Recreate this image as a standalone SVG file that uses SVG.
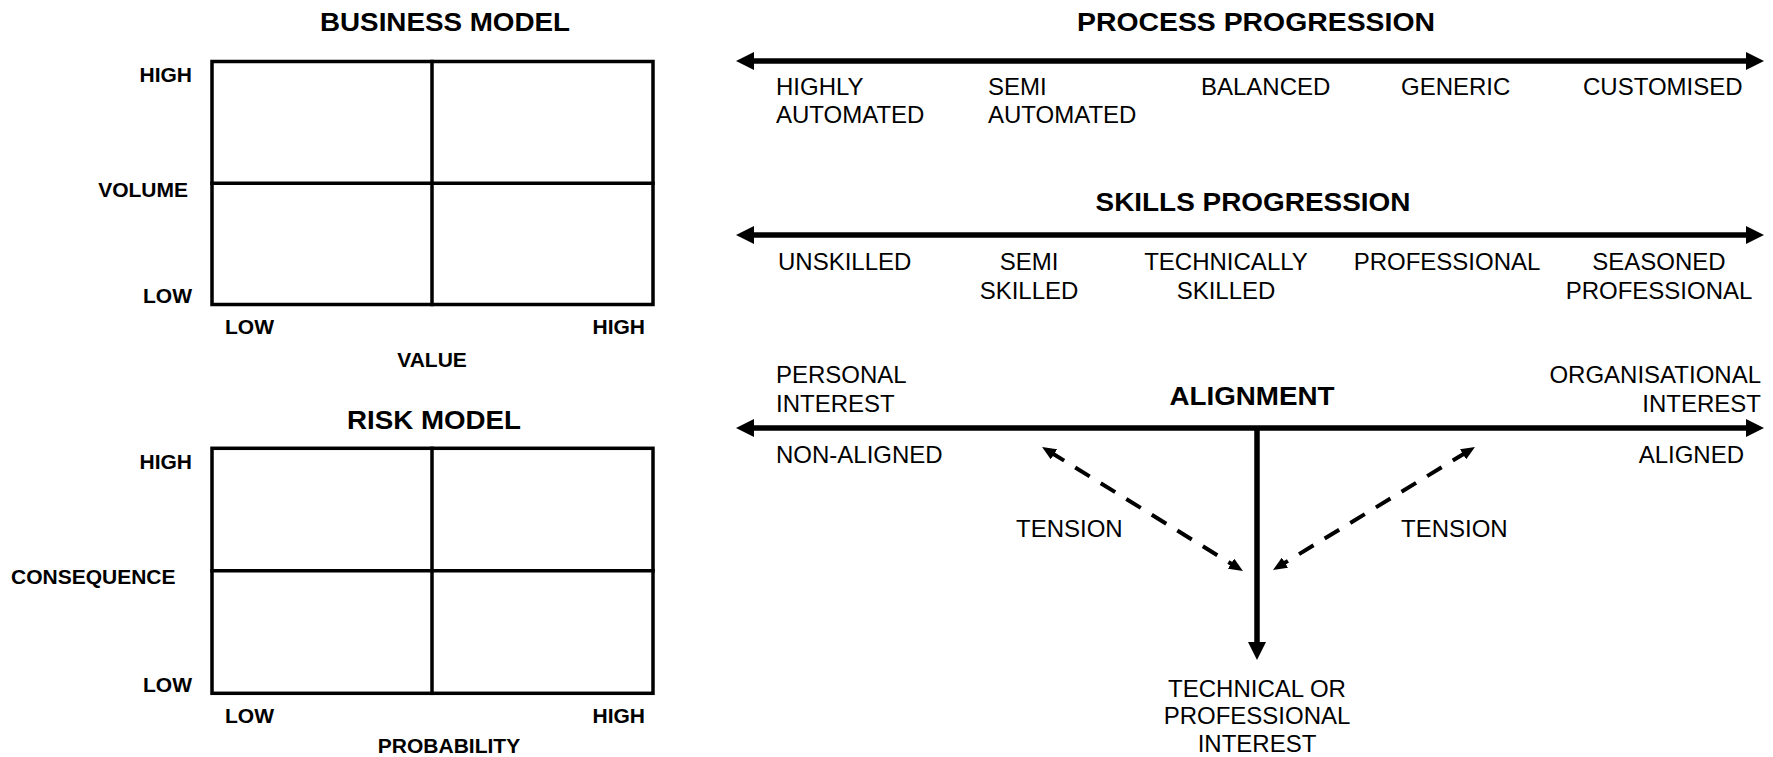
<svg xmlns="http://www.w3.org/2000/svg" width="1773" height="757" viewBox="0 0 1773 757">
<style>
.t{font-family:"Liberation Sans",Arial,sans-serif;fill:#000;font-weight:bold;font-size:25px}
.b{font-family:"Liberation Sans",Arial,sans-serif;fill:#000;font-weight:bold;font-size:21px}
.r{font-family:"Liberation Sans",Arial,sans-serif;fill:#000;font-size:24px}
.grid{fill:none;stroke:#000;stroke-width:3.5;stroke-linecap:square}
.axis{fill:none;stroke:#000;stroke-width:5.5}
.dash{fill:none;stroke:#000;stroke-width:4;stroke-dasharray:17 13}
.m{text-anchor:middle}
.e{text-anchor:end}
</style>
<defs>
<marker id="bigArrow" viewBox="0 0 18 18" markerWidth="18" markerHeight="18" markerUnits="userSpaceOnUse" refX="6" refY="9" orient="auto-start-reverse">
<path d="M0,0 L18,9 L0,18 z" fill="#000"/>
</marker>
<marker id="smallArrow" viewBox="0 0 14 12" markerWidth="14" markerHeight="12" markerUnits="userSpaceOnUse" refX="5" refY="6" orient="auto-start-reverse">
<path d="M0,0 L14,6 L0,12 z" fill="#000"/>
</marker>
</defs>
<rect width="1773" height="757" fill="#fff"/>

<g id="business-model">
<text class="t m" x="445" y="31" textLength="250" lengthAdjust="spacingAndGlyphs">BUSINESS MODEL</text>
<rect class="grid" x="212" y="61.5" width="441" height="243"/>
<line class="grid" x1="432" y1="61.5" x2="432" y2="304.5"/>
<line class="grid" x1="212" y1="183.3" x2="653" y2="183.3"/>
<text class="b e" x="192" y="82">HIGH</text>
<text class="b e" x="188" y="197">VOLUME</text>
<text class="b e" x="192" y="303">LOW</text>
<text class="b" x="225" y="334">LOW</text>
<text class="b e" x="645" y="334">HIGH</text>
<text class="b m" x="432" y="367">VALUE</text>
</g>

<g id="risk-model">
<text class="t m" x="434" y="429" textLength="174" lengthAdjust="spacingAndGlyphs">RISK MODEL</text>
<rect class="grid" x="212" y="448.3" width="441" height="245"/>
<line class="grid" x1="432" y1="448.3" x2="432" y2="693.3"/>
<line class="grid" x1="212" y1="570.7" x2="653" y2="570.7"/>
<text class="b e" x="192" y="469">HIGH</text>
<text class="b" x="11" y="584">CONSEQUENCE</text>
<text class="b e" x="192" y="692">LOW</text>
<text class="b" x="225" y="723">LOW</text>
<text class="b e" x="645" y="723">HIGH</text>
<text class="b m" x="449" y="753">PROBABILITY</text>
</g>

<g id="process-progression">
<text class="t m" x="1256" y="31" textLength="358" lengthAdjust="spacingAndGlyphs">PROCESS PROGRESSION</text>
<text class="r" x="776" y="95">HIGHLY</text>
<text class="r" x="776" y="123">AUTOMATED</text>
<text class="r" x="988" y="95">SEMI</text>
<text class="r" x="988" y="123">AUTOMATED</text>
<text class="r" x="1201" y="95">BALANCED</text>
<text class="r" x="1401" y="95">GENERIC</text>
<text class="r" x="1583" y="95">CUSTOMISED</text>
</g>

<g id="skills-progression">
<text class="t m" x="1253" y="211" textLength="315" lengthAdjust="spacingAndGlyphs">SKILLS PROGRESSION</text>
<text class="r" x="778" y="270">UNSKILLED</text>
<text class="r m" x="1029" y="270">SEMI</text>
<text class="r m" x="1029" y="299">SKILLED</text>
<text class="r m" x="1226" y="270">TECHNICALLY</text>
<text class="r m" x="1226" y="299">SKILLED</text>
<text class="r m" x="1447" y="270">PROFESSIONAL</text>
<text class="r m" x="1659" y="270">SEASONED</text>
<text class="r m" x="1659" y="299">PROFESSIONAL</text>
</g>

<g id="alignment">
<text class="t m" x="1252" y="405" textLength="165" lengthAdjust="spacingAndGlyphs">ALIGNMENT</text>
<text class="r" x="776" y="383">PERSONAL</text>
<text class="r" x="776" y="412">INTEREST</text>
<text class="r e" x="1761" y="383">ORGANISATIONAL</text>
<text class="r e" x="1761" y="412">INTEREST</text>
<text class="r" x="776" y="463">NON-ALIGNED</text>
<text class="r e" x="1744" y="463">ALIGNED</text>
<text class="r" x="1016" y="537">TENSION</text>
<text class="r" x="1401" y="537">TENSION</text>
</g>

<g id="technical-interest">
<text class="r m" x="1257" y="697">TECHNICAL OR</text>
<text class="r m" x="1257" y="724">PROFESSIONAL</text>
<text class="r m" x="1257" y="752">INTEREST</text>
</g>

<g id="connectors">
<line class="axis" x1="748" y1="61" x2="1752" y2="61" marker-start="url(#bigArrow)" marker-end="url(#bigArrow)"/>
<line class="axis" x1="748" y1="235" x2="1752" y2="235" marker-start="url(#bigArrow)" marker-end="url(#bigArrow)"/>
<line class="axis" x1="748" y1="428" x2="1752" y2="428" marker-start="url(#bigArrow)" marker-end="url(#bigArrow)"/>
<line class="axis" x1="1257" y1="428" x2="1257" y2="648" marker-end="url(#bigArrow)"/>
<line class="dash" x1="1049.7" y1="451.7" x2="1235.3" y2="566.3" marker-start="url(#smallArrow)" marker-end="url(#smallArrow)"/>
<line class="dash" x1="1467.3" y1="451.7" x2="1280.7" y2="565.3" marker-start="url(#smallArrow)" marker-end="url(#smallArrow)"/>
</g>
</svg>
